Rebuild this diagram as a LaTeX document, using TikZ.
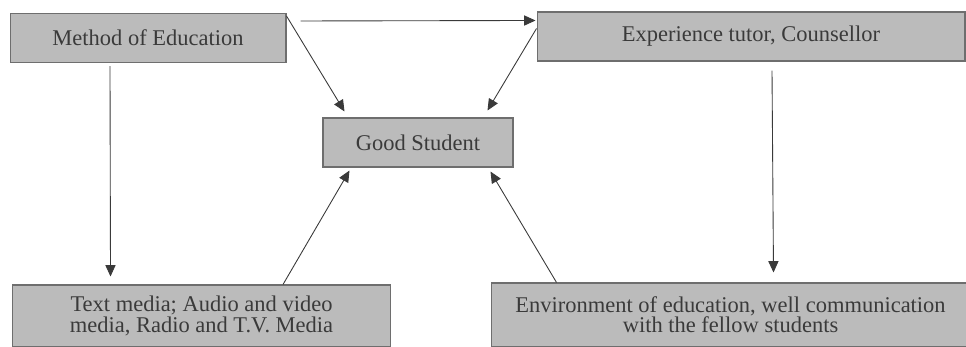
\documentclass[tikz,border=0pt]{standalone}
\usepackage{fontspec}
\setmainfont{Liberation Serif}
\usepackage{xcolor}
\usetikzlibrary{arrows.meta}
\definecolor{boxgray}{HTML}{BBBBBB}
\definecolor{edgegray}{HTML}{6E6E6E}
\definecolor{linegray}{HTML}{3A3A3A}

\begin{document}
\begin{tikzpicture}[
  x=0.02cm, y=-0.02cm,
  >={Triangle[length=6.5pt,width=5.8pt]},
  box/.style={rectangle, draw=edgegray, fill=boxgray, line width=0.6pt, inner sep=0pt, align=center, text=linegray, font=\fontsize{12.8}{11.5}\selectfont},
  flow/.style={->, draw=linegray, line width=0.5pt}
]
  \clip (0,0) rectangle (966,346);
  \fill[white] (0,0) rectangle (966,346);
  \node[box, minimum width=5.52cm, minimum height=0.98cm] (method) at (148,38) {Method of Education};
  \node[box, minimum width=8.56cm, minimum height=0.98cm] (exp) at (751,36.5) {Experience tutor, Counsellor};
  \node[box, minimum width=3.8cm, minimum height=0.98cm] (good) at (418,142.5) {Good Student};
  \node[box, minimum width=7.58cm, minimum height=1.24cm] (media) at (201.5,316) {Text media; Audio and video\\media, Radio and T.V. Media};
  \node[box, minimum width=9.58cm, minimum height=1.28cm] (env) at (730.5,315) {Environment of education, well communication\\with the fellow students};
  \draw[flow] ([shift={(14,8)}]method.north east) -- ([shift={(-1,9)}]exp.north west);
  \draw[flow] ([shift={(0,3)}]method.north east) -- ([shift={(22,-6)}]good.north west);
  \draw[flow] ([shift={(0,17)}]exp.north west) -- ([shift={(-26,-7)}]good.north east);
  \draw[flow] ([shift={(-38,3)}]method.south) -- ([shift={(-91,-8)}]media.north);
  \draw[flow] ([shift={(21,9)}]exp.south) -- ([shift={(43,-10)}]env.north);
  \draw[flow] ([shift={(81.5,0)}]media.north) -- ([shift={(27,3)}]good.south west);
  \draw[flow] ([shift={(66,0)}]env.north west) -- ([shift={(-23,4)}]good.south east);
\end{tikzpicture}
\end{document}
